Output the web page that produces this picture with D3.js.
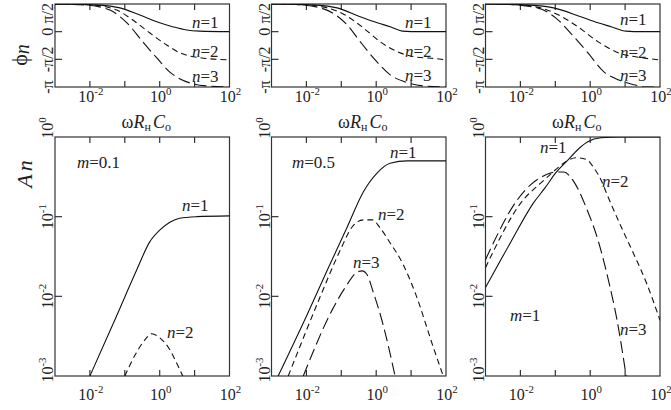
<!DOCTYPE html>
<html>
<head>
<meta charset="utf-8">
<script src="https://cdn.jsdelivr.net/npm/d3@7"></script>
<style>
  body { margin: 0; background: #fff; }
  text { font-family: "Liberation Serif", "Times New Roman", serif; fill: #222; }
</style>
</head>
<body>
<svg id="chart" width="671" height="410"></svg>
<script>
// -------------------------------
// Data (x as log10(ωRнCо))
// -------------------------------
const xTickVals = [1e-2, 1e-1, 1, 10];
const xLabelExps = [-2, 0, 2];
const phaseTickVals = [0, -0.5];            // units of π
const phaseLabels = ['π/2', '0', '-π/2', '-π'];
const phaseLabelVals = [0.5, 0, -0.5, -1];
const ampTickVals = [1e-1, 1e-2];
const ampLabelExps = [0, -1, -2, -3];
const mLabels = ['m=0.1', 'm=0.5', 'm=1'];

// phase curves: [log10 x, phase / π]
const phaseP1N1 = [[-3,0.5],[-1.71,0.48],[-1.14,0.43],[-0.57,0.30],[0,0.16],[0.37,0.09],[0.77,0.03],[1.14,0.01],[2,0]];
const phaseP1N2 = [[-3,0.5],[-1.91,0.48],[-1.23,0.39],[-0.77,0.21],[-0.29,-0.02],[0.2,-0.24],[0.57,-0.38],[1.14,-0.47],[2,-0.51]];
const phaseP1N3 = [[-3,0.5],[-2.09,0.48],[-1.43,0.39],[-0.94,0.16],[-0.49,-0.18],[-0.09,-0.47],[0.29,-0.73],[0.63,-0.87],[0.94,-0.94],[1.34,-0.98],[2,-1]];
const phaseP2N1 = [[-3,0.5],[-1.69,0.48],[-1.12,0.43],[-0.46,0.27],[0.03,0.16],[0.40,0.09],[0.75,0.01],[1.26,0],[2,0]];
const phaseP2N2 = [[-3,0.5],[-2.18,0.49],[-1.40,0.43],[-0.89,0.30],[-0.37,0.07],[0.11,-0.18],[0.60,-0.36],[1.06,-0.45],[1.75,-0.49],[2,-0.51]];
const phaseP2N3 = [[-3,0.5],[-2.32,0.49],[-1.60,0.43],[-0.83,0.12],[-0.46,-0.18],[-0.03,-0.51],[0.40,-0.78],[0.89,-0.92],[1.35,-0.98],[2,-1]];
const phaseP3N1 = [[-3,0.5],[-1.71,0.48],[-1.05,0.43],[-0.27,0.27],[0.22,0.16],[0.60,0.09],[1.03,0.01],[1.47,0],[2,0]];
const phaseP3N2 = [[-3,0.5],[-2.15,0.49],[-1.42,0.43],[-0.90,0.30],[-0.36,0.09],[0.22,-0.18],[0.80,-0.38],[1.47,-0.47],[2,-0.51]];
const phaseP3N3 = [[-3,0.5],[-2.29,0.49],[-1.51,0.43],[-0.99,0.25],[-0.47,-0.09],[-0.07,-0.38],[0.40,-0.73],[0.80,-0.87],[1.26,-0.96],[1.55,-1],[2,-1]];

// amplitude curves: [log10 x, log10 A]
const ampP1N1 = [[-2.0,-3.0],[-1.29,-2.30],[-0.66,-1.67],[-0.29,-1.32],[0,-1.17],[0.29,-1.07],[0.57,-1.02],[1.06,-1.0],[2,-0.99]];
const ampP1N2 = [[-1.0,-3.0],[-0.71,-2.74],[-0.43,-2.55],[-0.23,-2.47],[0,-2.52],[0.29,-2.67],[0.51,-2.86],[0.66,-3.0]];
const ampP2N1 = [[-2.81,-3.0],[-1.98,-2.23],[-1.40,-1.67],[-0.83,-1.13],[-0.37,-0.69],[0.03,-0.45],[0.40,-0.33],[0.89,-0.30],[2,-0.30]];
const ampP2N2 = [[-2.52,-3.0],[-1.60,-2.0],[-1.03,-1.42],[-0.69,-1.13],[-0.37,-1.04],[-0.11,-1.04],[0.11,-1.14],[0.40,-1.33],[0.75,-1.58],[1.12,-1.96],[1.63,-2.63],[1.92,-3.0]];
const ampP2N3 = [[-2.09,-3.0],[-1.26,-2.17],[-0.89,-1.89],[-0.52,-1.69],[-0.40,-1.68],[-0.26,-1.73],[-0.09,-1.94],[0.20,-2.36],[0.54,-3.0]];
const ampP3N1 = [[-3,-1.89],[-2.29,-1.33],[-1.63,-0.83],[-1.28,-0.63],[-0.99,-0.45],[-0.64,-0.29],[-0.36,-0.16],[-0.07,-0.06],[0.31,-0.01],[0.89,0],[2,0]];
const ampP3N2 = [[-3,-1.64],[-1.92,-0.79],[-1.42,-0.58],[-0.99,-0.41],[-0.70,-0.31],[-0.41,-0.26],[-0.12,-0.28],[0.11,-0.39],[0.31,-0.54],[0.51,-0.75],[0.89,-1.13],[1.26,-1.48],[1.61,-1.83],[2,-2.30]];
const ampP3N3 = [[-3,-1.54],[-2.09,-0.79],[-1.71,-0.60],[-1.34,-0.49],[-0.99,-0.44],[-0.76,-0.44],[-0.47,-0.56],[-0.12,-0.88],[0.22,-1.29],[0.54,-1.83],[0.77,-2.30],[1.03,-3.0]];

// -------------------------------
// Layout
// -------------------------------
const svg = d3.select('#chart');
const panelLeft = [55, 271.5, 485.5];
const panelW = 174.5;
const topY = [4, 87], botY = [137, 376];
const dashes = [null, '6,4', '12,5'];

const panels = [
  { phase: [phaseP1N1, phaseP1N2, phaseP1N3], amp: [ampP1N1, ampP1N2],
    phaseLab: [[192,28],[192,57],[192,82]],
    ampLab: [[182,211,'1'],[167,338,'2']], mLab: [77,168] },
  { phase: [phaseP2N1, phaseP2N2, phaseP2N3], amp: [ampP2N1, ampP2N2, ampP2N3],
    phaseLab: [[405,28],[405,57],[405,81]],
    ampLab: [[390,158,'1'],[378,220,'2'],[353,268,'3']], mLab: [292,168] },
  { phase: [phaseP3N1, phaseP3N2, phaseP3N3], amp: [ampP3N1, ampP3N2, ampP3N3],
    phaseLab: [[620,25],[620,58],[620,81]],
    ampLab: [[540,153,'1'],[602,187,'2'],[620,335,'3']], mLab: [510,321] }
];

// "10" with superscript exponent
function powLabel(g, exp, size) {
  g.append('tspan').text('10');
  g.append('tspan').attr('dy', -size * 0.42).attr('font-size', size * 0.68)
    .text(exp < 0 ? '-' + (-exp) : exp);
}

function nLabel(g, x, y, n) {
  const t = g.append('text').attr('x', x).attr('y', y).attr('font-size', 17);
  t.append('tspan').attr('font-style', 'italic').text('n');
  t.append('tspan').text('=' + n);
}

panels.forEach((p, i) => {
  const x0 = panelLeft[i];
  const x = d3.scaleLog().domain([1e-3, 1e2]).range([x0, x0 + panelW]);
  const yP = d3.scaleLinear().domain([-1, 0.5]).range([topY[1], topY[0]]);
  const yA = d3.scaleLog().domain([1e-3, 1]).range([botY[1], botY[0]]);
  const g = svg.append('g');

  // clip paths
  [['t', topY], ['b', botY]].forEach(([k, yy]) => {
    svg.append('clipPath').attr('id', `clip${k}${i}`)
      .append('rect').attr('x', x0).attr('y', yy[0]).attr('width', panelW).attr('height', yy[1] - yy[0]);
  });

  // frames + ticks
  [topY, botY].forEach(yy => {
    g.append('rect').attr('x', x0).attr('y', yy[0]).attr('width', panelW).attr('height', yy[1] - yy[0])
      .attr('fill', 'none').attr('stroke', '#333').attr('stroke-width', 1.2);
    xTickVals.forEach(v => {
      g.append('line').attr('x1', x(v)).attr('x2', x(v)).attr('y1', yy[0]).attr('y2', yy[0] + 6)
        .attr('stroke', '#333').attr('stroke-width', 1.2);
      g.append('line').attr('x1', x(v)).attr('x2', x(v)).attr('y1', yy[1]).attr('y2', yy[1] - 6)
        .attr('stroke', '#333').attr('stroke-width', 1.2);
    });
  });
  phaseTickVals.forEach(v => {
    g.append('line').attr('x1', x0).attr('x2', x0 + 7).attr('y1', yP(v)).attr('y2', yP(v))
      .attr('stroke', '#333').attr('stroke-width', 1.2);
  });
  ampTickVals.forEach(v => {
    g.append('line').attr('x1', x0).attr('x2', x0 + 7).attr('y1', yA(v)).attr('y2', yA(v))
      .attr('stroke', '#333').attr('stroke-width', 1.2);
  });

  // x tick labels (both rows)
  [102, 400].forEach(by => {
    xLabelExps.forEach(e => {
      const t = g.append('text').attr('x', x(Math.pow(10, e)) + 1).attr('y', by)
        .attr('text-anchor', 'middle').attr('font-size', 16);
      powLabel(t, e, 16);
    });
  });

  // axis title under the phase plot
  const at = g.append('text').attr('x', x0 + panelW / 2 + 4).attr('y', 128)
    .attr('text-anchor', 'middle').attr('font-size', 18);
  at.append('tspan').text('ω');
  at.append('tspan').attr('font-style', 'italic').text('R');
  at.append('tspan').attr('font-size', 12).attr('dy', 3).text('н');
  at.append('tspan').attr('font-style', 'italic').attr('dy', -3).attr('dx', 2).text('C');
  at.append('tspan').attr('font-size', 12).attr('dy', 3).text('о');

  // rotated y tick labels
  phaseLabels.forEach((s, k) => {
    const v = phaseLabelVals[k];
    const yy = v === 0.5 ? topY[0] - 1 : yP(v);
    g.append('text').attr('transform', `translate(${x0 - 2},${yy}) rotate(-90)`)
      .attr('text-anchor', v === 0.5 ? 'end' : 'middle').attr('font-size', 16).text(s);
  });
  ampLabelExps.forEach(e => {
    const yy = e === 0 ? 128 : e === -3 ? 370 : yA(Math.pow(10, e));
    const t = g.append('text').attr('transform', `translate(${x0 - 2},${yy}) rotate(-90)`)
      .attr('text-anchor', 'middle').attr('font-size', 16);
    powLabel(t, e, 16);
  });

  // curves
  const lineP = d3.line().x(d => x(Math.pow(10, d[0]))).y(d => yP(d[1])).curve(d3.curveMonotoneX);
  const lineA = d3.line().x(d => x(Math.pow(10, d[0]))).y(d => yA(Math.pow(10, d[1]))).curve(d3.curveMonotoneX);
  p.phase.forEach((d, k) => {
    g.append('path').attr('d', lineP(d)).attr('fill', 'none').attr('stroke', '#111')
      .attr('stroke-width', 1.1).attr('stroke-dasharray', dashes[k]).attr('clip-path', `url(#clipt${i})`);
  });
  p.amp.forEach((d, k) => {
    g.append('path').attr('d', lineA(d)).attr('fill', 'none').attr('stroke', '#111')
      .attr('stroke-width', 1.1).attr('stroke-dasharray', dashes[k]).attr('clip-path', `url(#clipb${i})`);
  });

  // labels
  p.phaseLab.forEach((l, k) => nLabel(g, l[0], l[1], k + 1));
  p.ampLab.forEach(l => nLabel(g, l[0], l[1], l[2]));
  const mt = g.append('text').attr('x', p.mLab[0]).attr('y', p.mLab[1]).attr('font-size', 17);
  mt.append('tspan').attr('font-style', 'italic').text('m');
  mt.append('tspan').text(mLabels[i].slice(1));
});

// y axis titles (left panel only)
const phT = svg.append('text').attr('transform', 'translate(27,55) rotate(-90)')
  .attr('text-anchor', 'middle').attr('font-size', 22);
phT.append('tspan').text('ϕ');
phT.append('tspan').attr('font-style', 'italic').attr('font-size', 20).attr('dy', 2).text('n');

const anT = svg.append('text').attr('transform', 'translate(32,174) rotate(-90)')
  .attr('text-anchor', 'middle').attr('font-size', 22).attr('font-style', 'italic');
anT.append('tspan').text('A');
anT.append('tspan').attr('dx', 3).text('n');
</script>
</body>
</html>
